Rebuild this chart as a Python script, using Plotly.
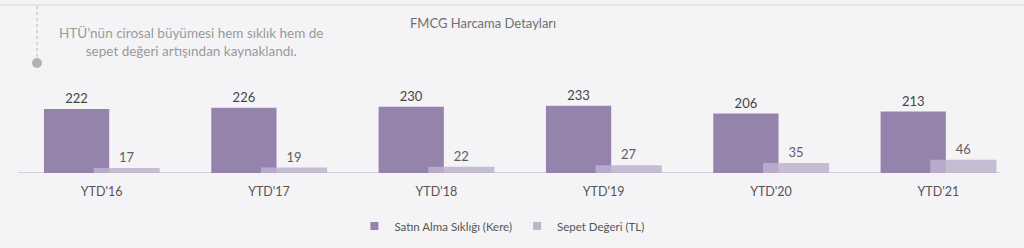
import plotly.graph_objects as go

categories = ["YTD'16", "YTD'17", "YTD'18", "YTD'19", "YTD'20", "YTD'21"]
frequency = [222, 226, 230, 233, 206, 213]
basket = [17, 19, 22, 27, 35, 46]
series_names = ["Satın Alma Sıklığı (Kere)", "Sepet Değeri (TL)"]
title_text = "FMCG Harcama Detayları"
note_text = "HTÜ’nün cirosal büyümesi hem sıklık hem de<br>sepet değeri artışından kaynaklandı."

FONT = "Lato, Open Sans, sans-serif"
BG = "#f4f4f6"
C1 = "#9683ad"
C2 = "#bfb3cf"

fig = go.Figure()
fig.add_trace(go.Bar(
    x=categories, y=frequency, name=series_names[0], showlegend=False,
    marker=dict(color=C1, line=dict(width=0)),
    offset=-0.345, width=0.39,
    text=[str(v) for v in frequency], textposition="outside",
    textfont=dict(size=13, color="#444444", family=FONT),
    cliponaxis=False,
))
fig.add_trace(go.Bar(
    x=categories, y=basket, name=series_names[1], showlegend=False,
    marker=dict(color=C2, line=dict(width=0)), opacity=0.85,
    offset=-0.048, width=0.395,
    text=[str(v) for v in basket], textposition="outside",
    textfont=dict(size=13, color="#444444", family=FONT),
    cliponaxis=False,
))
# legend entries with small square markers
fig.add_trace(go.Scatter(x=[None], y=[None], mode="markers", name=series_names[0],
                         marker=dict(symbol="square", size=8, color=C1)))
fig.add_trace(go.Scatter(x=[None], y=[None], mode="markers", name=series_names[1],
                         marker=dict(symbol="square", size=8, color=C2)))

fig.update_layout(
    width=1024, height=248,
    margin=dict(l=18, r=2, t=60, b=75),
    paper_bgcolor=BG, plot_bgcolor=BG,
    barmode="overlay",
    font=dict(family=FONT, color="#666666", size=12),
    showlegend=True,
    legend=dict(orientation="h", x=0.482, xanchor="center", y=-0.47, yanchor="middle",
                font=dict(size=11.5, color="#555555"), itemwidth=30,
                bgcolor="rgba(0,0,0,0)", traceorder="normal"),
    xaxis=dict(range=[-0.5, 5.5], showgrid=False, zeroline=False, showline=False,
               ticks="", tickfont=dict(size=12.5, color="#555555"), ticklabelstandoff=9),
    yaxis=dict(range=[0, 392], visible=False, showgrid=False, zeroline=False),
)

# baseline axis line
fig.add_shape(type="line", xref="paper", yref="y", x0=0, x1=0.978, y0=0, y1=0,
              line=dict(color="#c9c4d0", width=1.5), layer="below")
# top thin line
fig.add_shape(type="line", xref="paper", yref="paper", x0=-0.02, x1=1.01,
              y0=(173 - 5) / 113, y1=(173 - 5) / 113,
              line=dict(color="#e2e2e4", width=1.5))
# dotted vertical line and dot
fig.add_shape(type="line", xref="paper", yref="paper",
              x0=(37 - 18) / 1004, x1=(37 - 18) / 1004,
              y0=(173 - 6) / 113, y1=(173 - 58) / 113,
              line=dict(color="#b5b5b8", width=1, dash="dot"))
fig.add_shape(type="circle", xref="paper", yref="paper",
              x0=(32 - 18) / 1004, x1=(42 - 18) / 1004,
              y0=(173 - 58) / 113, y1=(173 - 68) / 113,
              fillcolor="#b3b3b6", line=dict(width=0))

fig.add_annotation(text=title_text, xref="paper", yref="paper",
                   x=(483 - 18) / 1004, y=(173 - 23) / 113, showarrow=False,
                   xanchor="center", yanchor="middle",
                   font=dict(size=13, color="#707070", family=FONT))
fig.add_annotation(text=note_text, xref="paper", yref="paper",
                   x=(191 - 18) / 1004, y=(173 - 41.5) / 113, showarrow=False,
                   xanchor="center", yanchor="middle", align="center",
                   font=dict(size=13.5, color="#9a9a9a", family=FONT))

fig.write_html("out.html")
